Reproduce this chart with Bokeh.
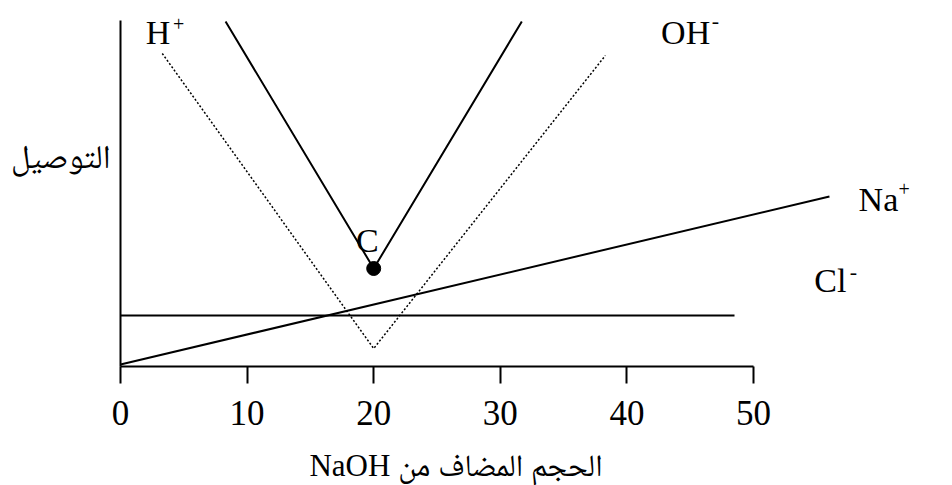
from bokeh.plotting import figure
from bokeh.models import Range1d, FixedTicker, LinearAxis
from bokeh.embed import file_html
from bokeh.resources import INLINE
from bokeh.core.properties import value

# data (x: volume of NaOH added, y: conductance, arbitrary units)
x_ticks = [0, 10, 20, 30, 40, 50]

total_x = [8.3, 20, 31.7]
total_y = [34.5, 9.8, 34.5]

hoh_x = [3.3, 20, 38.3]          # H+ / OH- contribution (dotted)
hoh_y = [31.3, 1.8, 31.1]

na_x = [0, 56]
na_y = [0.2, 17.0]

cl_x = [0, 48.5]
cl_y = [5.1, 5.1]

c_x = [20]
c_y = [9.8]

y_title = "التوصيل"
x_title = "\u202bالحجم المضاف من NaOH\u202c"

SERIF = "Liberation Serif"
ARAB = "Liberation Serif, Noto Naskh Arabic, Noto Sans Arabic, DejaVu Sans"

p = figure(width=952, height=485, output_backend="svg", toolbar_location=None,
           x_range=Range1d(0, 832 / 12.66), y_range=Range1d(0, 36.6),
           min_border_left=120, min_border_right=0, min_border_top=0,
           min_border_bottom=119)
p.outline_line_color = None
p.grid.visible = False
p.background_fill_color = "white"
p.border_fill_color = "white"

xa = p.xaxis[0]
xa.ticker = FixedTicker(ticks=x_ticks)
xa.bounds = (0, 50)
xa.axis_line_width = 2
xa.major_tick_line_width = 2
xa.major_tick_out = 17
xa.major_tick_in = 0
xa.minor_tick_line_color = None
xa.major_label_text_font = SERIF
xa.major_label_text_font_size = "35px"
xa.major_label_text_color = "black"
xa.major_label_standoff = 17

# second axis below carries the x title, centred on x = 26.5
xt = LinearAxis(ticker=FixedTicker(ticks=[26.5]),
                major_label_overrides={26.5: x_title})
xt.axis_line_color = None
xt.major_tick_line_color = None
xt.minor_tick_line_color = None
xt.major_tick_out = 0
xt.major_tick_in = 0
xt.major_label_standoff = 20
xt.major_label_text_font = ARAB
xt.major_label_text_font_size = "31px"
xt.major_label_text_color = "black"
p.add_layout(xt, "below")

ya = p.yaxis[0]
ya.ticker = FixedTicker(ticks=[21.0])
ya.major_label_overrides = {21.0: y_title}
ya.bounds = (0, 34.6)
ya.axis_line_width = 2
ya.major_tick_line_color = None
ya.minor_tick_line_color = None
ya.major_tick_out = 0
ya.major_tick_in = 0
ya.major_label_standoff = 10
ya.major_label_text_font = ARAB
ya.major_label_text_font_size = "33px"
ya.major_label_text_color = "black"

p.line(total_x, total_y, line_color="black", line_width=2)
p.line(hoh_x, hoh_y, line_color="black", line_width=1.5, line_dash="2 2")
p.line(na_x, na_y, line_color="black", line_width=2)
p.line(cl_x, cl_y, line_color="black", line_width=2)
p.scatter(c_x, c_y, size=14, color="black")

def txt(x, y, s, size="34px", align="left", baseline="alphabetic", font=SERIF):
    p.text(x=[x], y=[y], text=[s], text_font=value(font), text_font_size=size,
           text_align=align, text_baseline=baseline, text_color="black")

txt(2.0, 33.4, "H")
txt(4.6, 34.3, "+", size="20px", align="center", baseline="middle")
txt(42.7, 33.4, "OH")
txt(47.0, 34.6, "-", size="22px", align="center", baseline="middle")
txt(19.5, 12.6, "C", align="center")
txt(54.8, 8.6, "Cl")
txt(57.9, 9.5, "-", size="22px", align="center", baseline="middle")
txt(58.3, 16.7, "Na")
txt(61.9, 17.8, "+", size="20px", align="center", baseline="middle")

open("out.html", "w").write(file_html(p, INLINE))
